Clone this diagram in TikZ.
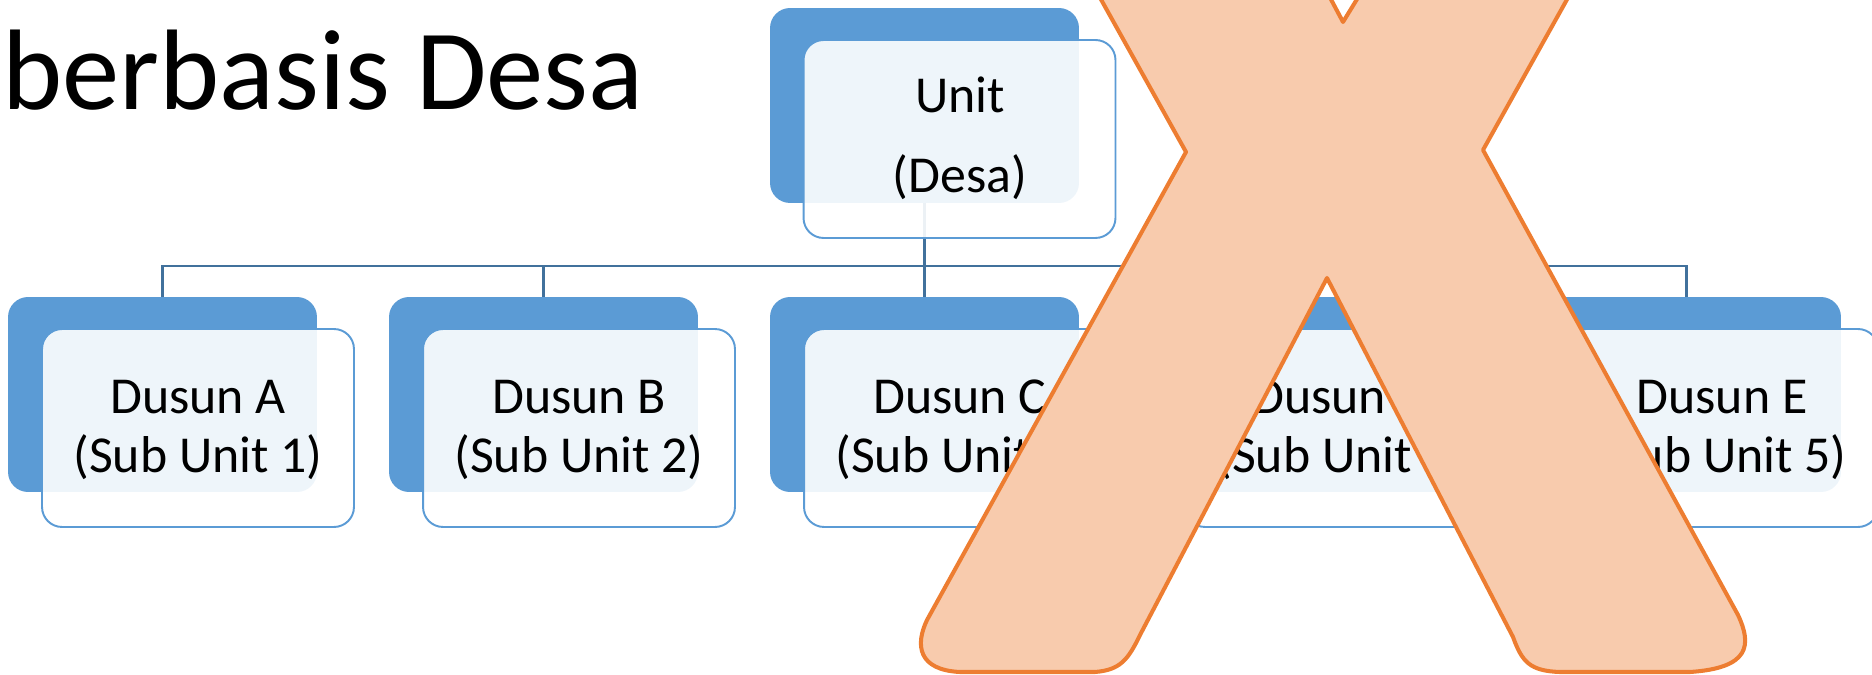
\documentclass[tikz,border=0pt]{standalone}
\usepackage{fontspec}
\setmainfont{Carlito}
\definecolor{acc}{HTML}{5B9BD5}
\definecolor{conn}{HTML}{41719C}
\definecolor{xfill}{HTML}{F8CBAD}
\definecolor{xline}{HTML}{ED7D31}
\begin{document}
\begin{tikzpicture}[x=0.02cm,y=-0.02cm,
  backbox/.style={draw=none, fill=acc, rounded corners=0.4cm, minimum width=6.18cm, minimum height=3.9cm, inner sep=0pt, outer sep=0pt},
  frontbox/.style={draw=acc, line width=1.1pt, fill=white, fill opacity=0.9, rounded corners=0.4cm, minimum width=6.24cm, minimum height=3.96cm, inner sep=0pt},
  lbl/.style={font=\fontsize{29.5pt}{33pt}\selectfont, inner sep=0pt, anchor=base},
  conline/.style={draw=conn, line width=1.4pt},
  bigx/.style={draw=xline, fill=xfill, line width=2.3pt, line join=round}]
\useasboundingbox (0,0) rectangle (1872,675);
% back boxes
\node[backbox] (ub) at (924.5,105.5) {};
\foreach \k in {0,...,4} \node[backbox] (b\k) at ({162.5+381*\k},394.5) {};
% connectors
\coordinate (bus) at (924.5,266);
\foreach \k in {0,...,4} \draw[conline] (ub.south) -- (ub.south |- bus) -| (b\k.north);
% front boxes
\node[frontbox] (uf) at (959.5,139) {};
\foreach \k in {0,...,4} \node[frontbox] (f\k) at ({198+381*\k},428) {};
% texts
\node[lbl] (u1) at (960,113) {Unit};
\node[lbl] (u2) at (960,193) {(Desa)};
\foreach \L/\n [count=\k from 0] in {A/1,B/2,C/3,D/4,E/5} {
  \node[lbl] (ta\k) at ({198+381*\k},413) {Dusun \L};
  \node[lbl] (tb\k) at ({198+381*\k},472) {(Sub Unit \n)};
}
% title
\node[font=\fontsize{65.2pt}{78pt}\selectfont, inner sep=0pt, anchor=base west] (title) at (2,110) {berbasis Desa};
% big X
\draw[bigx] (1079,-40) -- (1310,-40) -- (1343,22) -- (1381,-40) -- (1589,-40) -- (1483,150)
  -- (1738,615) .. controls (1752,645) and (1750,668) .. (1690,672)
  -- (1560,672) .. controls (1530,671) and (1522,662) .. (1513,637)
  -- (1327,278) -- (1140,635) .. controls (1128,660) and (1120,670) .. (1095,672)
  -- (960,672) .. controls (918,670) and (915,645) .. (927,620)
  -- (1186,152) -- cycle;
\end{tikzpicture}
\end{document}
